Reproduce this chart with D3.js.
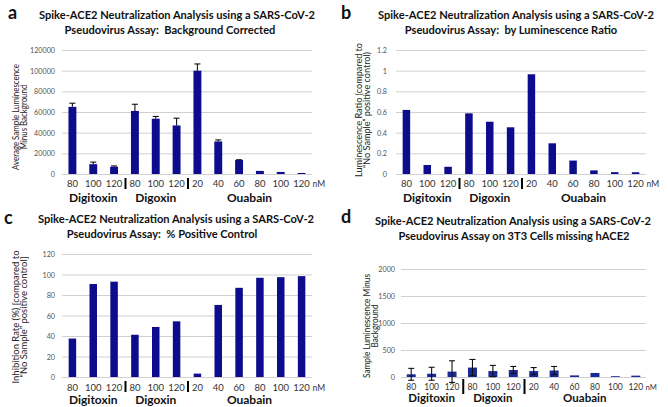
<!DOCTYPE html>
<html><head><meta charset="utf-8">
<script src="https://cdn.jsdelivr.net/npm/d3@7"></script>
<style>body{margin:0;background:#fff;} text{font-family:Lato,"Liberation Sans",Arial,sans-serif;}</style>
</head><body>
<script>
// ---------- data ----------
const concentrations = ["80","100","120","80","100","120","20","40","60","80","100","120"];
const drugs = ["Digitoxin","Digoxin","Ouabain"];
const drugGroupSizes = [3,3,6];

const bgCorrected    = [65000, 9500, 7000, 61000, 53500, 47000, 100000, 31500, 13500, 3000, 2000, 1000];
const bgCorrectedErr = [3500, 2000, 800, 6500, 2200, 7000, 6500, 1500, 300, 0, 0, 0];
const lumRatio       = [0.62, 0.087, 0.07, 0.587, 0.506, 0.452, 0.965, 0.297, 0.13, 0.035, 0.018, 0.017];
const inhibition     = [37.5, 90.7, 93, 41.2, 48.8, 54.3, 3.3, 70.3, 87, 96.8, 97.4, 98.4];
const cells3T3       = [50, 60, 100, 175, 110, 130, 110, 120, 30, 75, 15, 25];
const cells3T3Err    = [110, 120, 200, 150, 105, 65, 65, 75, 0, 0, 0, 0];

const ticksA = [0, 20000, 40000, 60000, 80000, 100000, 120000];
const ticksB = [0, 0.2, 0.4, 0.6, 0.8, 1, 1.2];
const ticksC = [0, 20, 40, 60, 80, 100, 120];
const ticksD = [0, 500, 1000, 1500, 2000];

const titleLine1 = "Spike-ACE2 Neutralization Analysis using a SARS-CoV-2";
const titlesLine2 = ["Pseudovirus Assay:  Background Corrected",
                     "Pseudovirus Assay:  by Luminescence Ratio",
                     "Pseudovirus Assay:  % Positive Control",
                     "Pseudovirus Assay on 3T3 Cells missing hACE2"];
const yTitles = [["Average Sample Luminescence","Minus Background"],
                 ["Luminescence Ratio (compared to","\u201CNo Sample\u201D positive control)"],
                 ["Inhibition Rate (%) [compared to","\u201CNo Sample\u201D positive control]"],
                 ["Sample Luminescence Minus","Background"]];
const panelLetters = ["a","b","c","d"];

// ---------- drawing ----------
const svg = d3.select("body").append("svg").attr("width",668).attr("height",407);

// condense a text element horizontally (Calibri-like narrowness)
function condense(sel, ratio){
  sel.each(function(){
    const w = this.getComputedTextLength();
    d3.select(this).attr("textLength", w*ratio).attr("lengthAdjust","spacingAndGlyphs");
  });
  return sel;
}
function naturalLen(text, size, weight){
  const t = svg.append("text").attr("font-size",size).attr("font-weight",weight)
     .style("white-space","pre").text(text);
  const w = t.node().getComputedTextLength(); t.remove(); return w;
}
let TITLE_SIZE = 12.5;
const nat = naturalLen(titleLine1, TITLE_SIZE, "bold");
if (nat > 290) TITLE_SIZE = TITLE_SIZE * 290 / nat;
const titleRatio = 276 / naturalLen(titleLine1, TITLE_SIZE, "bold");

const groupIndex = [];
drugGroupSizes.forEach((n,gi)=>{for(let k=0;k<n;k++) groupIndex.push(gi);});

function panel(cfg){
  const g = svg.append("g");
  const idx = d3.range(concentrations.length);
  const x = d3.scaleBand().domain(idx).range([cfg.x0,cfg.x1]).paddingInner(cfg.pad).paddingOuter(cfg.pad/2);
  const y = d3.scaleLinear().domain([0, d3.max(cfg.ticks)]).range([cfg.yBase, cfg.yTop]);
  const cx = i => x(i)+x.bandwidth()/2;

  // axis with gridlines
  const ax = g.append("g").attr("transform",`translate(${cfg.x0},0)`)
    .call(d3.axisLeft(y).tickValues(cfg.ticks).tickSize(-(cfg.x1-cfg.x0)).tickPadding(cfg.tickPad)
          .tickFormat(cfg.fmt));
  ax.select(".domain").remove();
  ax.selectAll("line").attr("stroke","#d0d0d0").attr("stroke-width",1);
  ax.selectAll("text").attr("fill","#555").attr("font-size",8).attr("font-family",null);
  condense(ax.selectAll("text"), 0.9);

  // bars
  g.selectAll("rect.bar").data(cfg.values).join("rect").attr("class","bar")
    .attr("x",(d,i)=>x(i)).attr("width",x.bandwidth())
    .attr("y",d=>y(d)).attr("height",d=>cfg.yBase-y(d))
    .attr("fill",cfg.color);

  // error bars
  if(cfg.err){
    const e = g.append("g").attr("stroke","#111").attr("stroke-width",1.1);
    cfg.values.forEach((v,i)=>{
      const er = cfg.err[i]; if(!er) return;
      const lo = cfg.twoSided ? v-er : v, hi = v+er;
      e.append("line").attr("x1",cx(i)).attr("x2",cx(i)).attr("y1",y(lo)).attr("y2",y(hi));
      e.append("line").attr("x1",cx(i)-3).attr("x2",cx(i)+3).attr("y1",y(hi)).attr("y2",y(hi));
      if(cfg.twoSided) e.append("line").attr("x1",cx(i)-3).attr("x2",cx(i)+3).attr("y1",y(lo)).attr("y2",y(lo));
    });
  }

  // x tick labels
  g.selectAll("text.xt").data(concentrations).join("text").attr("class","xt")
    .attr("x",(d,i)=>cx(i)).attr("y",cfg.xTickY).attr("text-anchor","middle")
    .attr("font-size",cfg.xTickSize).attr("fill","#333").text(d=>d);
  g.append("text").attr("x",cx(concentrations.length-1)+cfg.xTickSize*1.15).attr("y",cfg.xTickY)
    .attr("font-size",cfg.xTickSize*0.9).attr("fill","#333").text("nM");

  // separators
  let start = 0;
  drugGroupSizes.slice(0,-1).forEach(n=>{
    start += n;
    const sx = (cx(start-1)+cx(start))/2 + 1;
    g.append("line").attr("x1",sx).attr("x2",sx).attr("y1",cfg.sepY[0]).attr("y2",cfg.sepY[1])
      .attr("stroke","#000").attr("stroke-width",2);
  });

  // group labels
  drugs.forEach((dn,gi)=>{
    const members = idx.filter(i=>groupIndex[i]===gi);
    const m = d3.mean(members, cx);
    g.append("text").attr("x",m).attr("y",cfg.groupY).attr("text-anchor","middle")
      .attr("font-weight","bold").attr("font-size",cfg.groupSize).attr("fill","#111").text(dn);
  });

  // titles
  const t1 = g.append("text").attr("x",cfg.t1x).attr("y",cfg.t1y).attr("text-anchor","middle")
    .attr("font-weight","bold").attr("font-size",TITLE_SIZE).attr("fill","#111").text(titleLine1);
  condense(t1, titleRatio);
  const t2 = g.append("text").attr("x",cfg.t2x).attr("y",cfg.t2y).attr("text-anchor","middle")
    .attr("font-weight","bold").attr("font-size",TITLE_SIZE).attr("fill","#111")
    .style("white-space","pre").text(cfg.title2);
  condense(t2, titleRatio);

  // panel letter
  g.append("text").attr("x",cfg.lx).attr("y",cfg.ly).attr("font-weight","bold")
    .attr("font-size",18).attr("fill","#111").text(cfg.letter);

  // y title
  const ySize = 9.5;
  const yRatio = cfg.ytLen / naturalLen(cfg.ytitle[0], ySize, "normal");
  cfg.ytitle.forEach((t,k)=>{
    const tt = g.append("text").attr("transform",`translate(${cfg.ytx[k]},${cfg.yty}) rotate(-90)`)
      .attr("text-anchor","middle").attr("font-size",ySize).attr("fill","#222").text(t);
    condense(tt, yRatio);
  });
}

const fmtInt = d3.format("d");
const fmtDef = d => String(d);

panel({x0:62,x1:312,yBase:174,yTop:50,ticks:ticksA,fmt:fmtInt,pad:0.62,tickPad:7,
  values:bgCorrected,err:bgCorrectedErr,twoSided:false,color:"#0c0c8c",
  xTickY:186.5,xTickSize:9.5,sepY:[178,189],groupY:201.5,groupSize:12,
  t1x:177,t1y:19,t2x:170,t2y:34,title2:titlesLine2[0],letter:panelLetters[0],lx:8,ly:19,
  ytitle:yTitles[0],ytLen:106,ytx:[19,27],yty:117});

panel({x0:396,x1:646,yBase:174,yTop:50,ticks:ticksB,fmt:fmtDef,pad:0.64,tickPad:9,
  values:lumRatio,err:null,color:"#0c0c8c",
  xTickY:186.5,xTickSize:9.5,sepY:[178,189],groupY:201.5,groupSize:12,
  t1x:516,t1y:19,t2x:511,t2y:34,title2:titlesLine2[1],letter:panelLetters[1],lx:341,ly:19,
  ytitle:yTitles[1],ytLen:134,ytx:[362,370],yty:110});

panel({x0:62,x1:312,yBase:377,yTop:254,ticks:ticksC,fmt:fmtDef,pad:0.64,tickPad:7,
  values:inhibition,err:null,color:"#0c0c8c",
  xTickY:390.5,xTickSize:9.5,sepY:[381,392],groupY:404,groupSize:12,
  t1x:176,t1y:223,t2x:162,t2y:238,title2:titlesLine2[2],letter:panelLetters[2],lx:4,ly:224,
  ytitle:yTitles[2],ytLen:133,ytx:[19,27],yty:317});

panel({x0:401,x1:646,yBase:377,yTop:269,ticks:ticksD,fmt:fmtInt,pad:0.56,tickPad:6,
  values:cells3T3,err:cells3T3Err,twoSided:true,color:"#1a2a94",
  xTickY:389.5,xTickSize:8.5,sepY:[379,394],groupY:401.5,groupSize:11.5,
  t1x:513,t1y:225,t2x:514,t2y:240,title2:titlesLine2[3],letter:panelLetters[3],lx:341,ly:223,
  ytitle:yTitles[3],ytLen:104,ytx:[370,378],yty:326});
</script>
</body></html>
